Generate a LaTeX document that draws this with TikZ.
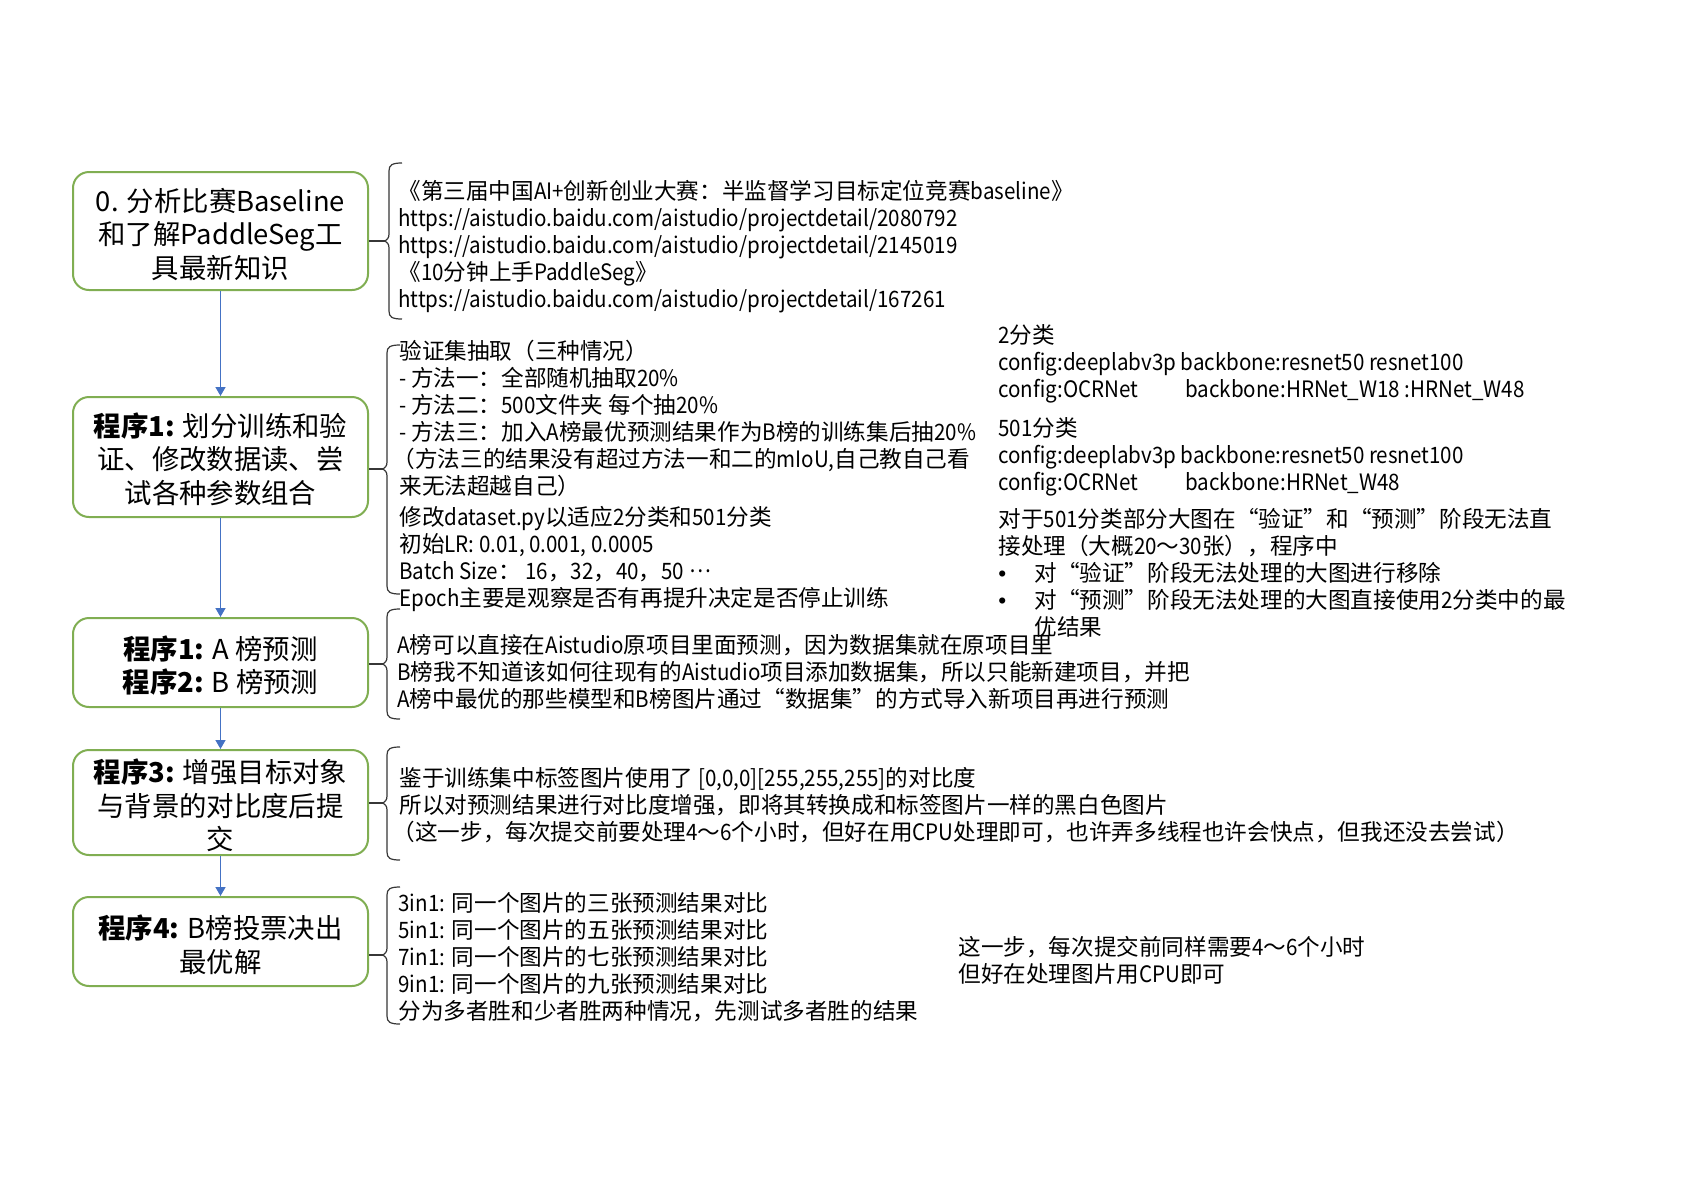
\documentclass[tikz,border=0pt]{standalone}
\usepackage{fontspec}
\setmainfont{Noto Sans CJK SC}
\newfontfamily\latnfont{Noto Sans CJK SC}[FakeStretch=0.91]
\newfontfamily\bulletfont{Liberation Sans}
\newcommand\latn[1]{{\latnfont #1}}
\newcommand\mybullet{\makebox[18pt][l]{\bulletfont •}}
\usetikzlibrary{arrows.meta}
\definecolor{boxgreen}{RGB}{128,174,82}
\definecolor{arrowblue}{RGB}{68,114,196}
\definecolor{bracegray}{RGB}{55,55,55}
\newcommand\drawbracepath[4]{% #1 x, #2 top, #3 tip y, #4 bottom
  \draw[bracestyle] (#1+13,#2) .. controls (#1+3,#2) and (#1,#2+2) .. (#1,#2+8)
    -- (#1,#3-7) .. controls (#1,#3-3) and (#1-2,#3-1) .. (#1-4,#3)
    .. controls (#1-2,#3+1) and (#1,#3+3) .. (#1,#3+7)
    -- (#1,#4-8) .. controls (#1,#4-2) and (#1+3,#4) .. (#1+13,#4);
}
\begin{document}
\begin{tikzpicture}[x=0.5pt,y=-0.5pt,
  stepbox/.style={draw=boxgreen, line width=1pt, rounded corners=8pt, fill=white,
    minimum width=147.5pt, inner sep=0pt, align=center,
    font=\fontsize{13.7}{16.8}\selectfont},
  flowarrow/.style={draw=arrowblue, line width=0.7pt, -{Triangle[width=5pt,length=4.5pt]}},
  bracestyle/.style={draw=bracegray, line width=0.6pt},
  notes/.style={anchor=north west, inner sep=0pt, align=left,
    font=\fontsize{11.3}{13.5}\selectfont}]
\fill[white] (0,0) rectangle (1683,1190);
\useasboundingbox (0,0) rectangle (1683,1190);

% boxes
\node[stepbox, minimum height=59pt] (b0) at (220.5,231)
  {\rule{0pt}{15pt}0. 分析比赛Baseline\\和了解PaddleSeg工\\具最新知识};
\node[stepbox, minimum height=60pt] (b1) at (220.5,457)
  {\rule{0pt}{14pt}\textbf{程序1:} 划分训练和验\\证、修改数据读、尝\\试各种参数组合};
\node[stepbox, minimum height=44.5pt] (b2) at (220.5,662.5)
  {\rule{0pt}{15pt}\textbf{程序1:} A 榜预测\\\textbf{程序2:} B 榜预测};
\node[stepbox, minimum height=52.5pt] (b3) at (220.5,802.5)
  {\rule{0pt}{15pt}\textbf{程序3:} 增强目标对象\\与背景的对比度后提\\交};
\node[stepbox, minimum height=44.5pt] (b4) at (220.5,941.5)
  {\rule{0pt}{15pt}\textbf{程序4:} B榜投票决出\\最优解};

% arrows
\draw[flowarrow] (b0) -- (b1);
\draw[flowarrow] (b1) -- (b2);
\draw[flowarrow] (b2) -- (b3);
\draw[flowarrow] (b3) -- (b4);

% braces
\coordinate (t0) at (385,241);
\coordinate (t1) at (383,469);
\coordinate (t2) at (383,664);
\coordinate (t3) at (383,803);
\coordinate (t4) at (383,955);
\drawbracepath{389}{163}{241}{319}
\drawbracepath{387}{345}{469}{594}
\drawbracepath{387}{609}{664}{719}
\drawbracepath{387}{747}{803}{860}
\drawbracepath{387}{887}{955}{1024}
\draw[bracestyle] (b0.east |- t0) -- (t0);
\draw[bracestyle] (b1.east |- t1) -- (t1);
\draw[bracestyle] (b2.east |- t2) -- (t2);
\draw[bracestyle] (b3.east |- t3) -- (t3);
\draw[bracestyle] (b4.east |- t4) -- (t4);

% text blocks
\node[notes] (n0) at (398,180) {%
《第三届中国\latn{AI+}创新创业大赛：半监督学习目标定位竞赛\latn{baseline}》\\
\latn{https://aistudio.baidu.com/aistudio/projectdetail/2080792}\\
\latn{https://aistudio.baidu.com/aistudio/projectdetail/2145019}\\
《\latn{10}分钟上手\latn{PaddleSeg}》\\
\latn{https://aistudio.baidu.com/aistudio/projectdetail/167261}};

\node[notes] (n1) at (399,340) {%
验证集抽取（三种情况）\\
\latn{- }方法一：全部随机抽取\latn{20\%}\\
\latn{- }方法二：\latn{500}文件夹 每个抽\latn{20\%}\\
\latn{- }方法三：加入\latn{A}榜最优预测结果作为\latn{B}榜的训练集后抽\latn{20\%}\\
\hspace*{-0.3em}（方法三的结果没有超过方法一和二的\latn{mIoU,}自己教自己看\\
来无法超越自己）\\[2pt]
修改\latn{dataset.py}以适应\latn{2}分类和\latn{501}分类\\
初始\latn{LR: 0.01, 0.001, 0.0005}\\
\latn{Batch Size}：\latn{ 16}，\latn{32}，\latn{40}，\latn{50} \raisebox{0.3em}{\latn{…}}\\
\latn{Epoch}主要是观察是否有再提升决定是否停止训练};

\node[notes] (n1r) at (998,324) {%
\latn{2}分类\\
\latn{config:deeplabv3p backbone:resnet50 resnet100}\\
\latn{\makebox[93.5pt][l]{config:OCRNet}backbone:HRNet\_W18 :HRNet\_W48}\\[6pt]
\latn{501}分类\\
\latn{config:deeplabv3p backbone:resnet50 resnet100}\\
\latn{\makebox[93.5pt][l]{config:OCRNet}backbone:HRNet\_W48}\\[5pt]
对于\latn{501}分类部分大图在“验证”和“预测”阶段无法直\\
接处理（大概\latn{20}～\latn{30}张），程序中\\
\mybullet 对“验证”阶段无法处理的大图进行移除\\
\mybullet 对“预测”阶段无法处理的大图直接使用\latn{2}分类中的最\\
\hspace*{18pt}优结果};

\node[notes] (n2) at (397,634) {%
\latn{A}榜可以直接在\latn{Aistudio}原项目里面预测，因为数据集就在原项目里\\
\latn{B}榜我不知道该如何往现有的\latn{Aistudio}项目添加数据集，所以只能新建项目，并把\\
\latn{A}榜中最优的那些模型和\latn{B}榜图片通过“数据集”的方式导入新项目再进行预测};

\node[notes] (n3) at (399,767) {%
鉴于训练集中标签图片使用了 \latn{[0,0,0][255,255,255]}的对比度\\
所以对预测结果进行对比度增强，即将其转换成和标签图片一样的黑白色图片\\
\hspace*{-0.3em}（这一步，每次提交前要处理\latn{4}～\latn{6}个小时，但好在用\latn{CPU}处理即可，也许弄多线程也许会快点，但我还没去尝试）};

\node[notes] (n4) at (398,892) {%
\latn{3in1:} 同一个图片的三张预测结果对比\\
\latn{5in1:} 同一个图片的五张预测结果对比\\
\latn{7in1:} 同一个图片的七张预测结果对比\\
\latn{9in1:} 同一个图片的九张预测结果对比\\
分为多者胜和少者胜两种情况，先测试多者胜的结果};

\node[notes] (n4r) at (958,936) {%
这一步，每次提交前同样需要\latn{4}～\latn{6}个小时\\
但好在处理图片用\latn{CPU}即可};
\end{tikzpicture}
\end{document}
